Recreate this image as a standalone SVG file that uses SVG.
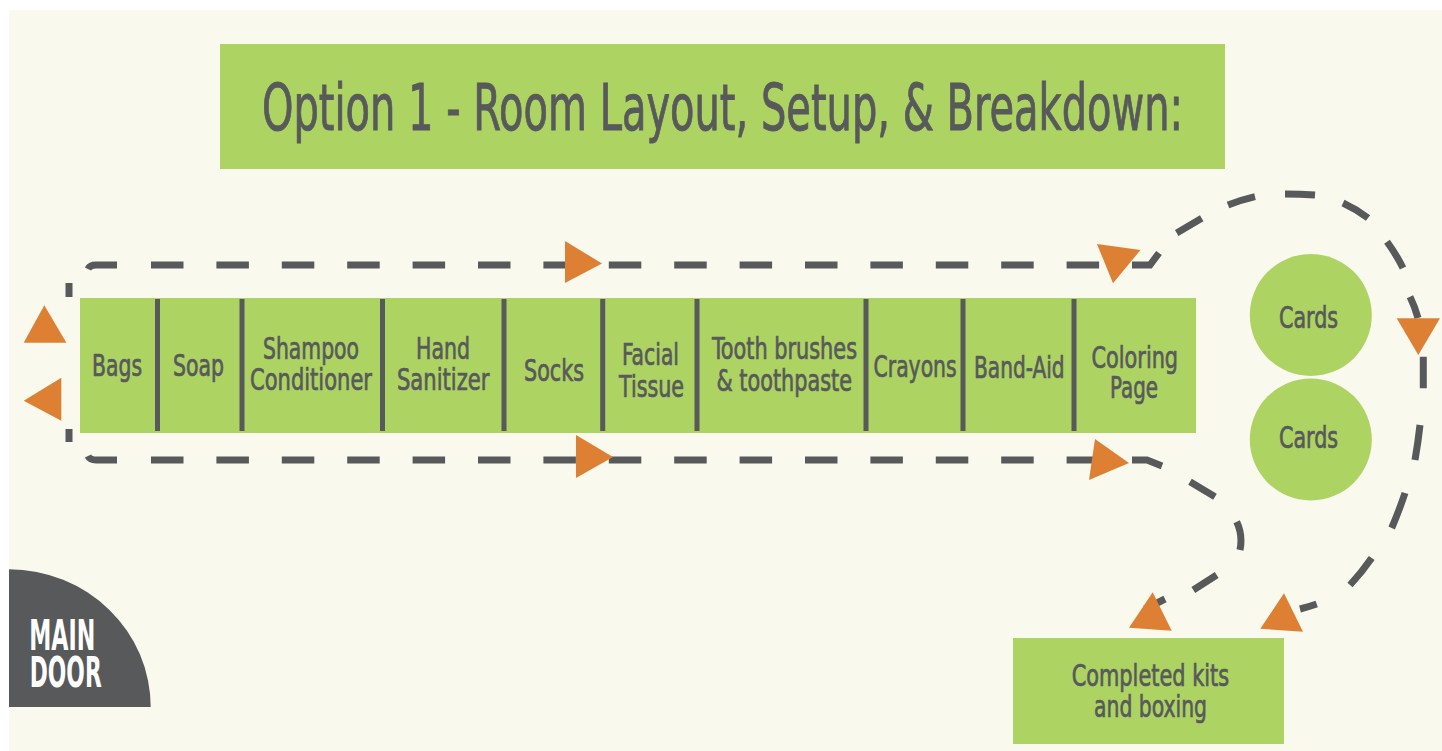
<svg xmlns="http://www.w3.org/2000/svg" width="1442" height="751" viewBox="0 0 1442 751">
<style>
.bg{fill:#F9F9EE}
.g{fill:#ADD362}
.dk{fill:#58595B}
.div{fill:#58595B}
.t{font-family:"Liberation Sans Narrow","DejaVu Sans Condensed","Liberation Sans",sans-serif;fill:#58595B;stroke:#58595B;stroke-width:0.7px;font-size:31px;text-anchor:middle}
.title{font-size:64px;stroke-width:0.9px}
.door{font-family:"Liberation Sans Narrow","DejaVu Sans Condensed","Liberation Sans",sans-serif;fill:#FFFFFF;font-size:42px;font-weight:bold;text-anchor:middle}
.dash{fill:none;stroke:#58595B;stroke-width:7;stroke-linecap:butt}
.dd{stroke-dasharray:32.5 32.9}
.arr{fill:#DE8033}
</style>
<rect x="0" y="0" width="1442" height="751" fill="#FFFFFF"/>
<rect class="bg" x="9" y="10" width="1433" height="741"/>

<g id="title">
<rect class="g" x="220" y="44" width="1005" height="125"/>
<text class="t title" x="722.5" y="129.5" textLength="921" lengthAdjust="spacingAndGlyphs">Option 1 - Room Layout, Setup, &amp; Breakdown:</text>
</g>

<g id="connectors">
<path class="dash" d="M69,297 V283 M88,269 Q90,265 96,265 H117 M69,429 V442 M88,456 Q90,460 96,460 H117"/>
<path class="dash dd" d="M151,265 H1132 M151,460 H1132"/>
<path class="dash" d="M1132,265 H1150 L1159,253"/>
<path class="dash" d="M1132,460 H1147 L1162,466"/>
<path class="dash" d="M1176.7,233 L1201.7,218.3 M1228,205 Q1241,200 1255,196.7 M1285,194 Q1300,194 1315,195 M1343,203 Q1356,209 1368,218 M1387,241.7 Q1396,254 1403,268 M1410,296.7 Q1415,307 1418,318 M1423.3,356.7 L1423.3,388.3 M1420,425 Q1418,443 1415,460 M1405,493 Q1399,511 1391.7,528 M1371.7,558 Q1362,572 1350,585 M1316.7,604 Q1308,607 1300,609"/>
<path class="dash" d="M1190,481.7 L1215,496.7 M1236.7,521.7 Q1243,535 1240,550 M1216.7,575 L1193.3,590 M1165,599 L1145,609"/>
<polygon class="arr" points="565,241 565,283 602,263.5"/>
<polygon class="arr" points="576,435 576,478 613,457"/>
<polygon class="arr" points="1097,244 1140.5,250 1113,283.3"/>
<polygon class="arr" points="1095,439 1089,480 1129,463"/>
<polygon class="arr" points="1396.7,318.3 1440,318.3 1418.3,355"/>
<polygon class="arr" points="1129,627.7 1171.7,630.7 1152.7,592.3"/>
<polygon class="arr" points="1260.3,628.7 1303,631.7 1284,593.3"/>
<polygon class="arr" points="23.7,342.7 66.4,342.7 44.3,305.3"/>
<polygon class="arr" points="61.3,377.7 61.3,420.7 23.7,400.7"/>
</g>

<g id="stations">
<rect class="g" x="80" y="298" width="1116" height="135"/>
<rect class="div" x="155" y="299" width="5" height="132"/>
<rect class="div" x="239.5" y="299" width="5" height="132"/>
<rect class="div" x="380" y="299" width="5" height="132"/>
<rect class="div" x="501.5" y="299" width="5" height="132"/>
<rect class="div" x="600.2" y="299" width="5" height="132"/>
<rect class="div" x="694.5" y="299" width="5" height="132"/>
<rect class="div" x="863.5" y="299" width="5" height="132"/>
<rect class="div" x="960.5" y="299" width="5" height="132"/>
<rect class="div" x="1071.5" y="299" width="5" height="132"/>
</g>
<g id="bags"><text class="t" x="117" y="376" textLength="50" lengthAdjust="spacingAndGlyphs">Bags</text></g>
<g id="soap"><text class="t" x="198.5" y="376" textLength="51" lengthAdjust="spacingAndGlyphs">Soap</text></g>
<g id="shampoo"><text class="t" x="311" y="359" textLength="96" lengthAdjust="spacingAndGlyphs">Shampoo</text><text class="t" x="311" y="390" textLength="122" lengthAdjust="spacingAndGlyphs">Conditioner</text></g>
<g id="sanitizer"><text class="t" x="443" y="359" textLength="54" lengthAdjust="spacingAndGlyphs">Hand</text><text class="t" x="443.2" y="390" textLength="92.5" lengthAdjust="spacingAndGlyphs">Sanitizer</text></g>
<g id="socks"><text class="t" x="554" y="381" textLength="60" lengthAdjust="spacingAndGlyphs">Socks</text></g>
<g id="tissue"><text class="t" x="650.5" y="365" textLength="57" lengthAdjust="spacingAndGlyphs">Facial</text><text class="t" x="651.5" y="397" textLength="65" lengthAdjust="spacingAndGlyphs">Tissue</text></g>
<g id="tooth"><text class="t" x="784.5" y="359" textLength="145" lengthAdjust="spacingAndGlyphs">Tooth brushes</text><text class="t" x="784.3" y="391" textLength="135.5" lengthAdjust="spacingAndGlyphs">&amp; toothpaste</text></g>
<g id="crayons"><text class="t" x="915.1" y="377" textLength="83" lengthAdjust="spacingAndGlyphs">Crayons</text></g>
<g id="bandaid"><text class="t" x="1019.3" y="378" textLength="90.6" lengthAdjust="spacingAndGlyphs">Band-Aid</text></g>
<g id="coloring"><text class="t" x="1134.8" y="368" textLength="86.6" lengthAdjust="spacingAndGlyphs">Coloring</text><text class="t" x="1134" y="398" textLength="48" lengthAdjust="spacingAndGlyphs">Page</text></g>

<g id="cards1"><circle class="g" cx="1310.8" cy="315" r="61"/><text class="t" x="1308.5" y="328.3" textLength="59" lengthAdjust="spacingAndGlyphs">Cards</text></g>
<g id="cards2"><circle class="g" cx="1310.8" cy="439.5" r="61"/><text class="t" x="1308.5" y="448.3" textLength="59" lengthAdjust="spacingAndGlyphs">Cards</text></g>

<g id="completed"><rect class="g" x="1013" y="638" width="271" height="106"/><text class="t" x="1150.4" y="686" textLength="157.5" lengthAdjust="spacingAndGlyphs">Completed kits</text><text class="t" x="1150.5" y="717" textLength="113" lengthAdjust="spacingAndGlyphs">and boxing</text></g>

<g id="maindoor"><path class="dk" d="M9,707 L9,569.3 A141.7,137.7 0 0 1 150.7,707 Z"/><text class="door" x="62.3" y="650" textLength="66" lengthAdjust="spacingAndGlyphs">MAIN</text><text class="door" x="65.7" y="687" textLength="72" lengthAdjust="spacingAndGlyphs">DOOR</text></g>
</svg>
